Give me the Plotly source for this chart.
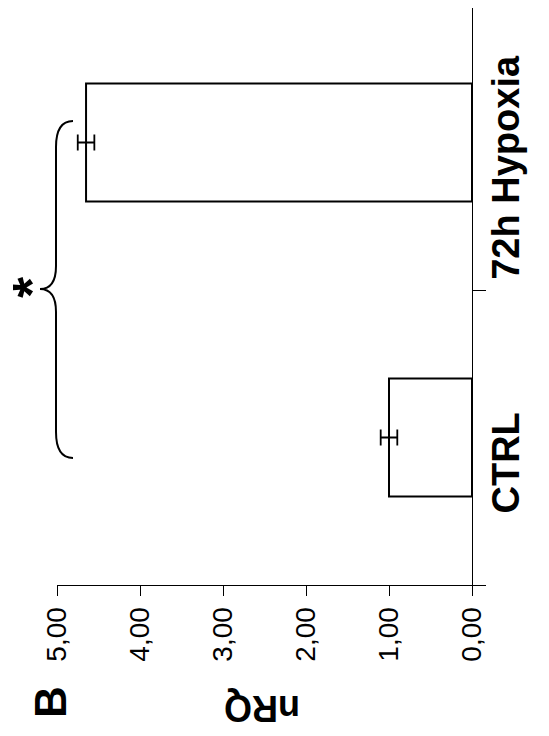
import plotly.graph_objects as go

# data (nRQ, mean +/- error)
categories = ['CTRL', '72h Hypoxia']
nrq = [1.00, 4.65]
nrq_err = [0.10, 0.10]
x_ticks = [0, 1, 2, 3, 4, 5]

FONT = 'Liberation Sans, Arial, sans-serif'

# the page body adds an 8px margin, so the figure is a bit smaller than the window
OFF = 8
W, H = 549 - OFF, 736 - OFF
ML, MR, MT, MB = 57 - OFF, 77, 0, 151
pw, ph = W - ML - MR, H - MT - MB


# page pixel -> paper helpers for the decorations outside the plot area
def px(x):
    return (x - OFF - ML) / pw


def py(y):
    return 1 - (y - OFF - MT) / ph


bar = go.Bar(y=categories, x=nrq, orientation='h', width=0.4,
             marker=dict(color='white', line=dict(color='black', width=2)),
             error_x=dict(type='data', array=nrq_err, color='black', thickness=1.8, width=8),
             showlegend=False)
fig = go.Figure([bar])

# brace linking the two groups
brace = (f"M {px(73)},{py(121)} Q {px(56)},{py(121)} {px(56)},{py(147)} "
         f"L {px(56)},{py(266)} Q {px(56)},{py(289)} {px(40)},{py(289)} "
         f"Q {px(56)},{py(289)} {px(56)},{py(312)} L {px(56)},{py(432)} "
         f"Q {px(56)},{py(458)} {px(73)},{py(458)}")
fig.add_shape(type='path', path=brace, xref='paper', yref='paper',
              line=dict(color='black', width=2))

ann = dict(xref='paper', yref='paper', showarrow=False, xanchor='center', yanchor='middle')
fig.add_annotation(text='<b>*</b>', x=px(31), y=py(287), textangle=-90,
                   font=dict(size=54, color='black', family=FONT), **ann)
fig.add_annotation(text='<b>nRQ</b>', x=px(262), y=py(709), textangle=180,
                   font=dict(size=36, color='black', family=FONT), **ann)
fig.add_annotation(text='<b>B</b>', x=px(50), y=py(702), textangle=-90,
                   font=dict(size=44, color='black', family=FONT), **ann)

fig.update_layout(width=W, height=H, margin=dict(l=ML, r=MR, t=MT, b=MB),
                  plot_bgcolor='white', paper_bgcolor='white', separators=',.',
                  font=dict(family=FONT, color='black'))
fig.update_xaxes(range=[5, 0], tickvals=x_ticks, tickformat='.2f', tickangle=-90,
                 ticks='outside', ticklen=10, tickcolor='black', showline=True,
                 linecolor='black', linewidth=1, showgrid=False, zeroline=False,
                 tickfont=dict(size=28))
fig.update_yaxes(side='right', range=[-0.5, 1.456], tickson='boundaries', tickangle=-90,
                 ticks='outside', ticklen=13, tickcolor='black', showline=True,
                 linecolor='black', linewidth=1, showgrid=False, ticklabelshift=31,
                 tickmode='array', tickvals=categories,
                 ticktext=['<b>' + c + '</b>' for c in categories],
                 tickfont=dict(size=38, family=FONT))

fig.write_html("out.html")
